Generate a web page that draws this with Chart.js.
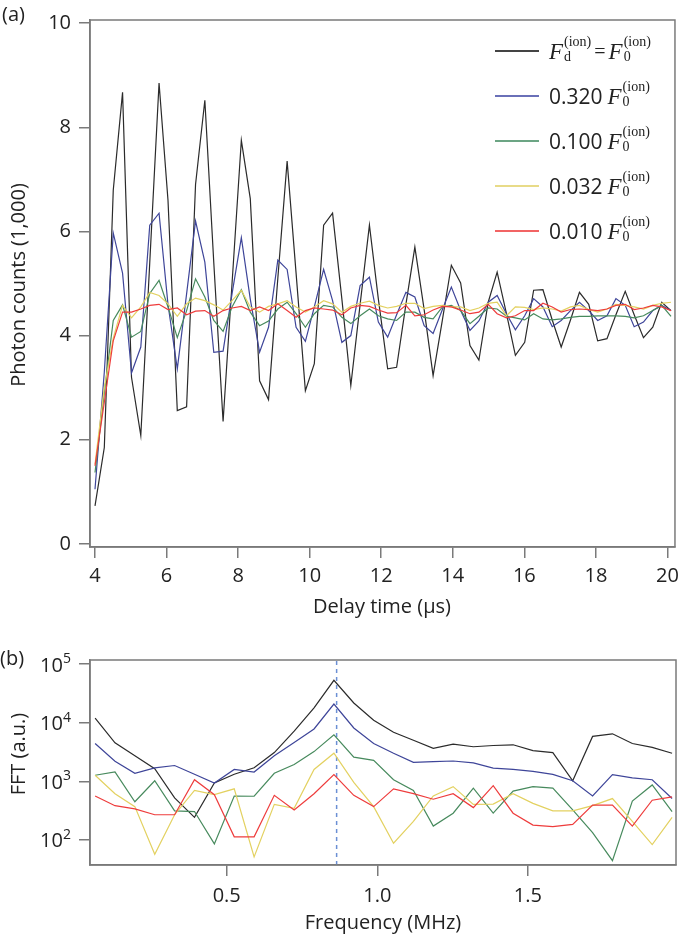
<!DOCTYPE html>
<html>
<head>
<meta charset="utf-8">
<script src="https://cdn.jsdelivr.net/npm/chart.js@4.4.0/dist/chart.umd.min.js"></script>
<style>
  html, body { margin:0; padding:0; background:#fff; }
  body { width:685px; height:938px; position:relative; overflow:hidden; font-family:"Open Sans", sans-serif; color:#222; }
  canvas { position:absolute; left:0; }
  .lbl { position:absolute; font-size:20px; white-space:nowrap; line-height:1; }
  .rot { transform: translate(-50%,-50%) rotate(-90deg); }
  .ctr { transform: translate(-50%,-50%); }
  .leg-row { position:absolute; left:495px; height:40px; display:flex; align-items:center; white-space:nowrap; }
  .leg-line { width:44px; height:2px; margin-right:10px; }
  .leg-text { font-size:21px; line-height:1; display:flex; align-items:center; }
  .mF { font-family:"Liberation Serif", serif; font-style:italic; font-size:23px; }
  .ss { display:inline-flex; flex-direction:column; font-family:"Liberation Serif", serif; font-size:14px; line-height:1; margin-left:1px; position:relative; top:-1px; }
  .ss .sup { position:relative; top:-1px; }
  .ss .sub { position:relative; top:0px; }
  .eq { font-family:"Liberation Serif", serif; font-size:20px; margin:0 3px; }
  .num { margin-right:5px; }
</style>
</head>
<body>
<canvas id="top" width="685" height="600" style="top:0;width:685px;height:600px"></canvas>
<canvas id="fft" width="685" height="298" style="top:640px;width:685px;height:298px"></canvas>

<div class="lbl" style="left:2px;top:4px">(a)</div>
<div class="lbl rot" style="left:18px;top:285px">Photon counts (1,000)</div>
<div class="lbl ctr" style="left:382px;top:606px">Delay time (µs)</div>
<div class="lbl" style="left:0px;top:648px">(b)</div>
<div class="lbl rot" style="left:18px;top:754px">FFT (a.u.)</div>
<div class="lbl ctr" style="left:383px;top:922px">Frequency (MHz)</div>

<div class="leg-row" style="top:31px"><div class="leg-line" style="background:#444"></div>
  <div class="leg-text"><span class="mF">F</span><span class="ss"><span class="sup">(ion)</span><span class="sub">d</span></span><span class="eq">=</span><span class="mF">F</span><span class="ss"><span class="sup">(ion)</span><span class="sub">0</span></span></div></div>
<div class="leg-row" style="top:76px"><div class="leg-line" style="background:#6a70b8"></div>
  <div class="leg-text"><span class="num">0.320</span><span class="mF">F</span><span class="ss"><span class="sup">(ion)</span><span class="sub">0</span></span></div></div>
<div class="leg-row" style="top:121px"><div class="leg-line" style="background:#6ca584"></div>
  <div class="leg-text"><span class="num">0.100</span><span class="mF">F</span><span class="ss"><span class="sup">(ion)</span><span class="sub">0</span></span></div></div>
<div class="leg-row" style="top:166px"><div class="leg-line" style="background:#e8db88"></div>
  <div class="leg-text"><span class="num">0.032</span><span class="mF">F</span><span class="ss"><span class="sup">(ion)</span><span class="sub">0</span></span></div></div>
<div class="leg-row" style="top:211px"><div class="leg-line" style="background:#f26464"></div>
  <div class="leg-text"><span class="num">0.010</span><span class="mF">F</span><span class="ss"><span class="sup">(ion)</span><span class="sub">0</span></span></div></div>

<script>
// ---------- Panel (a): photon counts vs delay time ----------
const delayTimes = [4.00,4.26,4.51,4.77,5.02,5.28,5.53,5.79,6.04,6.30,6.56,6.81,7.07,7.32,7.58,7.83,
  8.09,8.34,8.60,8.85,9.11,9.37,9.62,9.88,10.13,10.39,10.64,10.90,11.15,11.41,11.67,11.92,
  12.18,12.43,12.69,12.94,13.20,13.45,13.71,13.96,14.22,14.48,14.73,14.99,15.24,15.50,15.75,16.01,
  16.26,16.52,16.78,17.03,17.29,17.54,17.80,18.05,18.31,18.56,18.82,19.07,19.33,19.59,19.84,20.10];

const countsF1000 = [0.73,1.85,6.79,8.67,3.20,2.08,5.40,8.85,6.60,2.56,2.63,6.90,8.52,5.40,2.35,5.00,
  7.75,6.63,3.13,2.77,5.10,7.35,5.20,2.94,3.46,6.12,6.35,4.70,3.04,4.60,6.12,4.70,
  3.36,3.39,4.60,5.70,4.50,3.23,4.30,5.35,5.01,3.81,3.53,4.64,5.22,4.42,3.62,3.87,
  4.87,4.88,4.30,3.78,4.30,4.83,4.60,3.90,3.94,4.40,4.85,4.40,3.96,4.16,4.64,4.48];
const countsF0320 = [1.05,3.30,5.97,5.20,3.28,3.78,6.12,6.35,4.60,3.36,4.80,6.20,5.41,3.68,3.70,4.80,
  5.88,4.70,3.68,4.16,5.45,5.27,4.16,3.89,4.55,5.27,4.67,3.87,4.00,4.96,5.12,4.26,
  3.97,4.40,4.83,4.74,4.19,4.04,4.50,4.93,4.48,4.10,4.28,4.64,4.77,4.42,4.11,4.38,
  4.71,4.55,4.17,4.29,4.48,4.64,4.48,4.29,4.38,4.71,4.58,4.17,4.26,4.48,4.58,4.48];
const countsF0100 = [1.37,2.90,4.29,4.59,3.97,4.08,4.81,5.06,4.55,3.96,4.48,5.09,4.74,4.29,4.08,4.55,
  4.88,4.45,4.19,4.28,4.51,4.64,4.42,4.16,4.42,4.58,4.55,4.35,4.23,4.38,4.51,4.38,
  4.32,4.29,4.45,4.45,4.35,4.32,4.55,4.58,4.48,4.23,4.37,4.53,4.51,4.37,4.34,4.30,
  4.42,4.32,4.30,4.32,4.35,4.37,4.37,4.38,4.38,4.38,4.37,4.34,4.38,4.48,4.58,4.37];
const countsF0032 = [1.53,3.00,3.95,4.58,4.34,4.55,4.83,4.77,4.61,4.37,4.61,4.72,4.67,4.59,4.49,4.67,
  4.87,4.55,4.45,4.56,4.61,4.67,4.55,4.45,4.55,4.67,4.61,4.45,4.56,4.62,4.66,4.58,
  4.53,4.56,4.62,4.62,4.52,4.56,4.58,4.55,4.55,4.48,4.53,4.62,4.64,4.38,4.55,4.54,
  4.50,4.53,4.51,4.47,4.55,4.58,4.50,4.45,4.51,4.60,4.58,4.55,4.51,4.58,4.62,4.64];
const countsF0010 = [1.50,2.72,3.90,4.45,4.45,4.51,4.58,4.60,4.50,4.53,4.40,4.47,4.48,4.37,4.48,4.53,
  4.56,4.48,4.55,4.48,4.61,4.48,4.35,4.48,4.53,4.51,4.49,4.40,4.53,4.58,4.56,4.49,
  4.43,4.44,4.58,4.38,4.40,4.49,4.56,4.55,4.49,4.42,4.45,4.60,4.42,4.34,4.38,4.48,
  4.48,4.62,4.55,4.45,4.50,4.51,4.50,4.48,4.51,4.58,4.60,4.50,4.53,4.58,4.55,4.48];

const countTicks = [0,2,4,6,8,10];
const delayTicks = [4,6,8,10,12,14,16,18,20];

// ---------- Panel (b): FFT ----------
const frequencies = [0.063,0.129,0.195,0.261,0.327,0.393,0.459,0.525,0.591,0.658,0.724,0.790,0.856,0.922,0.988,
  1.054,1.120,1.186,1.252,1.319,1.385,1.451,1.517,1.583,1.649,1.715,1.781,1.847,1.913,1.979];
const fftF1000 = [11940,4540,2730,1640,521,243,935,1318,1702,3097,7178,17950,52970,21730,11070,
  6902,5023,3656,4315,3890,4093,4207,3342,3097,1023,5848,6471,4426,3802,3020];
const fftF0320 = [4426,2198,1371,1702,1862,1318,935,1596,1442,2730,4592,7834,20890,8147,4426,
  3020,2113,2168,2223,2061,1683,1596,1479,1318,1023,562,1303,1148,1064,508];
const fftF0100 = [1271,1442,448,1023,313,305,85.5,562,556,1371,1932,3214,6237,2588,2280,
  1064,698,172,286,764,286,681,813,764,325,133,44.2,459,867,305];
const fftF0032 = [1271,615,370,56.9,269,698,592,745,51.4,404,347,1596,3020,959,370,
  87.7,208,562,813,404,409,615,420,313,313,384,508,208,83.4,243];
const fftF0010 = [562,384,338,269,269,1064,592,113,113,577,325,615,1303,577,370,
  745,615,495,615,356,845,286,179,168,184,394,394,172,476,541];

const fftTicks = [100,1000,10000,100000];
const freqTicks = [0.5,1.0,1.5];
const peakFrequency = 0.865;

// ---------- styling ----------
const seriesColors = ['#2b2b2b','#3e4599','#478a5d','#e3d160','#ee3c3c'];
const axisGray = '#7a7a7a';
const FONT = '"Open Sans", sans-serif';
Chart.defaults.font.family = FONT;
Chart.defaults.font.size = 20;
Chart.defaults.color = '#222';

const pts = (xs, ys) => xs.map((x, i) => ({x, y: ys[i]}));

const framePlugin = {
  id: 'frame',
  afterDraw(chart) {
    const {ctx, chartArea: a} = chart;
    ctx.save();
    ctx.strokeStyle = axisGray;
    ctx.lineWidth = 1.5;
    ctx.strokeRect(a.left, a.top, a.right - a.left, a.bottom - a.top);
    ctx.restore();
  }
};

function mkSet(data, color, order) {
  return { data, borderColor: color, borderWidth: 1.2, pointRadius: 0, tension: 0, fill: false, order };
}

function axisCommon(ticksArr) {
  return {
    grid: { display: true, drawOnChartArea: false, drawTicks: true, tickLength: 11, color: axisGray, lineWidth: 1.5 },
    border: { display: true, color: axisGray, width: 1.5 },
    afterBuildTicks: s => { s.ticks = ticksArr.map(v => ({ value: v })); }
  };
}

const topSeries = [countsF1000, countsF0320, countsF0100, countsF0032, countsF0010];
new Chart(document.getElementById('top'), {
  type: 'line',
  data: { datasets: topSeries.map((s, i) => mkSet(pts(delayTimes, s), seriesColors[i], 4 - i)) },
  options: {
    responsive: false, animation: false, devicePixelRatio: 1,
    layout: { padding: { left: 0, right: 9, top: 19, bottom: 0 } },
    plugins: { legend: { display: false }, tooltip: { enabled: false } },
    scales: {
      x: Object.assign(axisCommon(delayTicks), {
        type: 'linear', min: 3.86, max: 20.21,
        ticks: { autoSkip: false, maxRotation: 0, padding: 6, color: '#222', font: { size: 20 } },
        afterFit: s => { s.height = 53; }
      }),
      y: Object.assign(axisCommon(countTicks), {
        type: 'linear', min: -0.06, max: 10.06,
        ticks: { autoSkip: false, padding: 8, color: '#222', font: { size: 20 } },
        afterFit: s => { s.width = 90; }
      })
    }
  },
  plugins: [framePlugin]
});

const logLabelPlugin = {
  id: 'logLabels',
  afterDraw(chart) {
    const {ctx} = chart;
    const s = chart.scales.y;
    ctx.save();
    ctx.fillStyle = '#222';
    ctx.textBaseline = 'alphabetic';
    fftTicks.forEach(v => {
      const y = s.getPixelForValue(v);
      const e = String(Math.round(Math.log10(v)));
      ctx.font = '14px ' + FONT;
      ctx.textAlign = 'right';
      const ew = ctx.measureText(e).width;
      ctx.fillText(e, 71, y - 1);
      ctx.font = '20px ' + FONT;
      ctx.fillText('10', 71 - ew, y + 7.5);
    });
    ctx.restore();
  }
};

const fftSeries = [fftF1000, fftF0320, fftF0100, fftF0032, fftF0010];
const fftDatasets = fftSeries.map((s, i) => mkSet(pts(frequencies, s), seriesColors[i], 4 - i));
fftDatasets.push({
  data: [{x: peakFrequency, y: 37.3}, {x: peakFrequency, y: 117800}],
  borderColor: '#6b8fd4', borderWidth: 1.5, borderDash: [4, 4], pointRadius: 0, order: 5
});
new Chart(document.getElementById('fft'), {
  type: 'line',
  data: { datasets: fftDatasets },
  options: {
    responsive: false, animation: false, devicePixelRatio: 1,
    layout: { padding: { left: 0, right: 9, top: 14, bottom: 0 } },
    plugins: { legend: { display: false }, tooltip: { enabled: false } },
    scales: {
      x: Object.assign(axisCommon(freqTicks), {
        type: 'linear', min: 0.046, max: 1.992,
        ticks: { autoSkip: false, maxRotation: 0, padding: 8, color: '#222', font: { size: 20 },
                 callback: v => Number(v).toFixed(1) },
        afterFit: s => { s.height = 73; }
      }),
      y: Object.assign(axisCommon(fftTicks), {
        type: 'logarithmic', min: 37.3, max: 117800,
        ticks: { autoSkip: false, padding: 8, callback: () => '' },
        afterFit: s => { s.width = 90; }
      })
    }
  },
  plugins: [framePlugin, logLabelPlugin]
});
</script>
</body>
</html>
